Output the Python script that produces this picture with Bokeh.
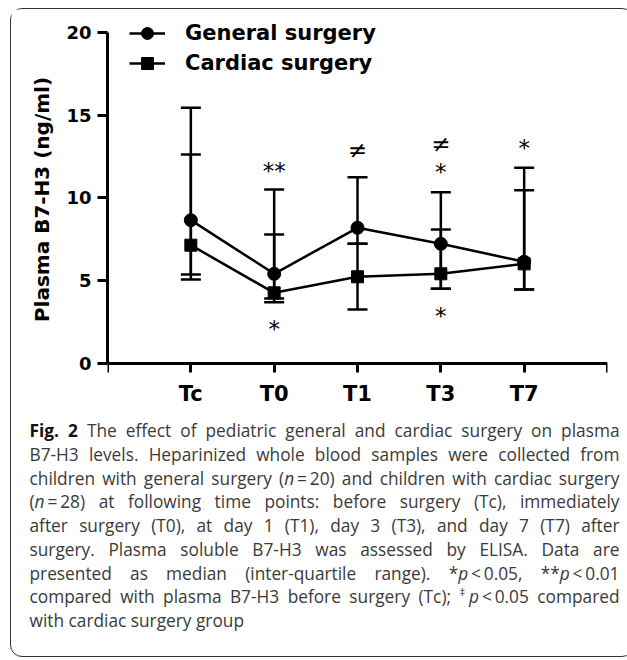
from bokeh.plotting import figure
from bokeh.models import (ColumnDataSource, Whisker, TeeHead, Legend, LegendItem,
                          FixedTicker, Range1d, Div, LinearAxis)
from bokeh.layouts import column
from bokeh.embed import file_html
from bokeh.resources import INLINE
from bokeh.core.properties import value

# ---------------- data ----------------
categories = ["Tc", "T0", "T1", "T3", "T7"]

general_median = [8.66, 5.42, 8.20, 7.23, 6.15]
general_q1 = [5.08, 3.93, 7.23, 4.51, 4.47]
general_q3 = [15.45, 10.51, 11.26, 10.35, 11.82]

cardiac_median = [7.15, 4.27, 5.24, 5.42, 6.02]
cardiac_q1 = [5.38, 3.70, 3.26, 4.51, 4.47]
cardiac_q3 = [12.63, 7.79, 7.23, 8.10, 10.47]

y_ticks = [0, 5, 10, 15, 20]
series_names = ["General surgery", "Cardiac surgery"]
y_label = "Plasma B7-H3 (ng/ml)"

ann_cat = ["T0", "T0", "T1", "T3", "T3", "T3", "T7"]
ann_y = [11.65, 2.06, 12.93, 13.25, 11.6, 2.86, 13.05]
ann_text = ["**", "*", "\u2260", "\u2260", "*", "*", "*"]

caption_lines = [
    "<b style='color:#111'>Fig. 2</b> The effect of pediatric general and cardiac surgery on plasma",
    "B7-H3 levels. Heparinized whole blood samples were collected from",
    "children with general surgery (<i>n</i>&#8201;=&#8201;20) and children with cardiac surgery",
    "(<i>n</i>&#8201;=&#8201;28) at following time points: before surgery (Tc), immediately",
    "after surgery (T0), at day 1 (T1), day 3 (T3), and day 7 (T7) after",
    "surgery. Plasma soluble B7-H3 was assessed by ELISA. Data are",
    "presented as median (inter-quartile range). *<i>p</i>&#8201;&lt;&#8201;0.05, **<i>p</i>&#8201;&lt;&#8201;0.01",
    "compared with plasma B7-H3 before surgery (Tc); <sup style='font-size:11px;line-height:0;'>&#8225;</sup><i>p</i>&#8201;&lt;&#8201;0.05 compared",
    "with cardiac surgery group",
]

# ---------------- figure ----------------
xpos = {c: i + 1 for i, c in enumerate(categories)}
xs = [xpos[c] for c in categories]
x_tick_marks = list(range(0, len(categories) + 2))
label_overrides = {xpos[c]: c for c in categories}

pad_top, pad_bottom = 0.785, 0.967   # room for the legend / centring of the axis title
p = figure(frame_width=500, frame_height=360,
           x_range=Range1d(0, len(categories) + 1),
           y_range=Range1d(y_ticks[0] - pad_bottom, y_ticks[-1] + pad_top),
           output_backend="svg", toolbar_location=None,
           min_border_left=96, min_border_right=16, min_border_top=10, min_border_bottom=30)
p.outline_line_color = None
p.xgrid.visible = False
p.ygrid.visible = False
p.background_fill_color = "white"
p.border_fill_color = "white"

gsrc = ColumnDataSource(dict(x=xs, y=general_median, lo=general_q1, hi=general_q3))
csrc = ColumnDataSource(dict(x=xs, y=cardiac_median, lo=cardiac_q1, hi=cardiac_q3))

for src in (gsrc, csrc):
    w = Whisker(source=src, base="x", lower="lo", upper="hi", line_width=2.5, line_color="black",
                upper_head=TeeHead(size=20, line_width=2.5, line_color="black"),
                lower_head=TeeHead(size=20, line_width=2.5, line_color="black"))
    p.add_layout(w)

gl = p.line("x", "y", source=gsrc, line_width=2.5, line_color="black")
gm = p.scatter("x", "y", source=gsrc, marker="circle", size=13, fill_color="black", line_color="black")
cl = p.line("x", "y", source=csrc, line_width=2.5, line_color="black")
cm = p.scatter("x", "y", source=csrc, marker="square", size=12, fill_color="black", line_color="black")

asrc = ColumnDataSource(dict(x=[xpos[c] for c in ann_cat], y=ann_y, t=ann_text))
p.text("x", "y", text="t", source=asrc, text_font=value("DejaVu Sans"), text_font_size="23px",
       text_align="center", text_baseline="middle", text_color="#000000")

legend = Legend(items=[LegendItem(label=series_names[0], renderers=[gl, gm]),
                       LegendItem(label=series_names[1], renderers=[cl, cm])],
                location=(22, 301), glyph_width=36, glyph_height=30, label_height=30,
                label_standoff=20, spacing=0, padding=0, margin=0,
                border_line_alpha=0, background_fill_alpha=0,
                label_text_font="DejaVu Sans", label_text_font_style="bold",
                label_text_font_size="21px", label_text_color="black")
p.add_layout(legend)

# x axis line and tick marks, drawn at y = 0 (marks as minor ticks -> no label texts)
xa = p.xaxis[0]
xa.fixed_location = 0
xa.ticker = FixedTicker(ticks=[], minor_ticks=x_tick_marks)
xa.axis_line_width = 3
xa.major_tick_line_color = None
xa.minor_tick_line_color = "black"
xa.minor_tick_line_width = 3
xa.minor_tick_out = 9
xa.minor_tick_in = 0

# x category labels, in the panel under the frame
xl = LinearAxis(ticker=FixedTicker(ticks=xs), major_label_overrides=label_overrides,
                axis_line_color=None, major_tick_line_color=None, minor_tick_line_color=None,
                major_label_standoff=-4, major_label_text_font="DejaVu Sans",
                major_label_text_font_style="bold", major_label_text_font_size="21px",
                major_label_text_color="black")
p.add_layout(xl, "below")

# y axis
ya = p.yaxis[0]
ya.bounds = (y_ticks[0], y_ticks[-1])
ya.ticker = FixedTicker(ticks=y_ticks)
ya.minor_tick_line_color = None
ya.axis_line_width = 3
ya.major_tick_line_width = 3
ya.major_tick_out = 10
ya.major_tick_in = 0
ya.major_label_standoff = 6
ya.major_label_text_font = "DejaVu Sans"
ya.major_label_text_font_style = "bold"
ya.major_label_text_font_size = "18px"
ya.major_label_text_color = "black"
ya.axis_label = y_label
ya.axis_label_standoff = 9
ya.axis_label_text_font = "DejaVu Sans"
ya.axis_label_text_font_style = "bold"
ya.axis_label_text_font_size = "20px"
ya.axis_label_text_color = "black"

# ---------------- caption ----------------
rows = []
for i, line in enumerate(caption_lines):
    last = "left" if i == len(caption_lines) - 1 else "justify"
    rows.append(f"<div style='text-align:justify;text-align-last:{last};'>{line}</div>")
html = ("<div style=\"font-family:'Open Sans';font-size:17.3px;line-height:23.75px;color:#3a3a3a;"
        "width:590px;margin-left:13.5px;position:relative;top:5px;\">" + "".join(rows) + "</div>")
cap = Div(text=html, width=612, height=237)

lay = column(p, cap, margin=(8, 0, 0, 10),
             styles={"border": "1.5px solid #333", "border-radius": "12px", "background": "white"})

open("out.html", "w").write(file_html(lay, INLINE))
